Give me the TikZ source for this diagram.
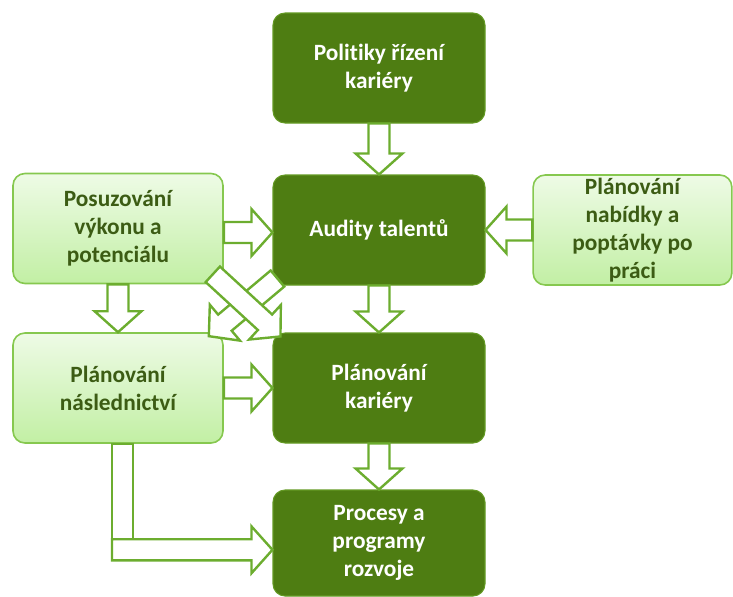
\documentclass[tikz,border=0pt]{standalone}
\usepackage{fontspec}
\setmainfont{Carlito}[Ligatures=NoCommon]
\usetikzlibrary{calc}

\definecolor{darkgreen}{HTML}{4E7D12}
\definecolor{darkborder}{HTML}{649A24}
\definecolor{lighttop}{HTML}{EEFBE6}
\definecolor{lightbot}{HTML}{C2EFA4}
\definecolor{lightborder}{HTML}{86C84F}
\definecolor{arrowgreen}{HTML}{6CAD2F}
\definecolor{textgreen}{HTML}{3C5C14}

\begin{document}
\begin{tikzpicture}[x=0.75pt, y=-0.75pt,
    box/.style={rounded corners=9pt, minimum width=159pt, minimum height=82.5pt,
        inner sep=1pt, align=center, font=\bfseries\fontsize{17.5}{21}\selectfont},
    darkbox/.style={box, draw=darkborder, line width=0.8pt, fill=darkgreen, text=white},
    lightbox/.style={box, minimum width=157.5pt, draw=lightborder, line width=1.2pt,
        top color=lighttop, bottom color=lightbot, text=textgreen},
    arrowline/.style={draw=arrowgreen, fill=white, line width=1.8pt},
    blockarrow/.style={arrowline, line join=miter,
        to path={let \p1=($(\tikztotarget)-(\tikztostart)$),
            \n1={atan2(\y1,\x1)}, \n2={veclen(\x1,\y1)} in
            ([shift={(\tikztostart)}, rotate=\n1]0pt,7.9pt)
            -- ([shift={(\tikztostart)}, rotate=\n1]\n2-15.75pt,7.9pt)
            -- ([shift={(\tikztostart)}, rotate=\n1]\n2-15.75pt,17.6pt)
            -- ([shift={(\tikztostart)}, rotate=\n1]\n2,0pt)
            -- ([shift={(\tikztostart)}, rotate=\n1]\n2-15.75pt,-17.6pt)
            -- ([shift={(\tikztostart)}, rotate=\n1]\n2-15.75pt,-7.9pt)
            -- ([shift={(\tikztostart)}, rotate=\n1]0pt,-7.9pt) -- cycle}}]
    \useasboundingbox (0,0) rectangle (733,597);

    % dark boxes in the middle column
    \node[darkbox] (pol) at (379, 68) {Politiky řízení\\kariéry};
    \node[darkbox] (aud) at (379, 230) {Audity talentů};
    \node[darkbox] (kar) at (379, 388) {Plánování\\kariéry};
    \node[darkbox, minimum height=79.5pt] (pro) at (379, 543) {Procesy a\\programy\\rozvoje};

    % light boxes at the sides
    \node[lightbox] (pos) at (118, 228.5) {Posuzování\\výkonu a\\potenciálu};
    \node[lightbox] (nas) at (118, 388) {Plánování\\následnictví};
    \node[lightbox, minimum width=149pt, inner ysep=0pt] (nab) at (632.5, 230)
        {Plánování\\nabídky a\\poptávky po\\práci};

    % arrows
    \coordinate (posout) at ([yshift=-3pt]pos.east);
    \draw[blockarrow] (pol.south) to (aud.north);
    \draw[blockarrow] (posout) to (posout -| aud.west);
    \draw[blockarrow] (nab.west) to (aud.east);
    \draw[blockarrow] (pos.south) to (nas.north);
    \draw[blockarrow] (nas.east) to (kar.west);
    \draw[blockarrow] (aud.south) to (kar.north);
    \draw[blockarrow] (kar.south) to (pro.north);
    \draw[blockarrow] ($(aud.south west)+(5,-7)$) to ($(nas.north east)+(-15,4)$);
    \draw[blockarrow] ($(pos.south east)+(-11,-10)$) to ($(kar.north west)+(8,4)$);

    % elbow from succession planning down to the processes
    \coordinate (elb) at ($(nas.south)+(-6,106)$);
    \draw[arrowline] ($(nas.south)+(-6,0)$) rectangle ($(nas.south)+(15,95)$);
    \draw[blockarrow] (elb) to (elb -| pro.west);
\end{tikzpicture}
\end{document}
